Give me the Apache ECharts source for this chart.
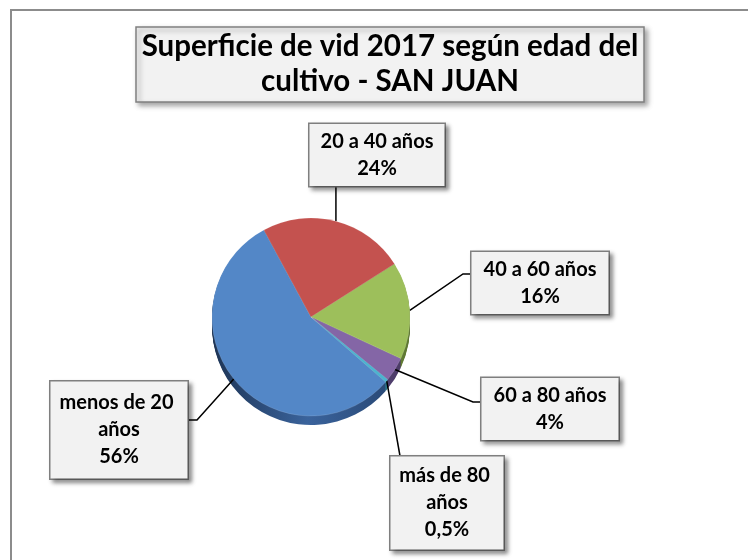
<!DOCTYPE html>
<html>
<head>
<meta charset="utf-8">
<title>Superficie de vid 2017 según edad del cultivo - SAN JUAN</title>
<script src="https://cdn.jsdelivr.net/npm/echarts@6/dist/echarts.min.js"></script>
<style>
  html, body { margin: 0; padding: 0; background: #ffffff; }
  #chart { width: 748px; height: 560px; }
</style>
</head>
<body>
<div id="chart"></div>
<script>
// Superficie de vid por edad del cultivo (porcentaje del total)
const categories = ['menos de 20 años', '20 a 40 años', '40 a 60 años', '60 a 80 años', 'más de 80 años'];
const shares = [56, 24, 16, 4, 0.5];

// slice colours: top face and darker side wall
const topColors = ['#5387c7', '#c4524f', '#9dbf5b', '#8466a6', '#4bb3cf'];
const sideColors = [
  ['#1d3455', '#3a639c', '#2a4a78'],
  ['#7a2e2c', '#9a3d3a', '#7a2e2c'],
  ['#5c7530', '#77933f', '#5c7530'],
  ['#4a3a66', '#5f4a80', '#4a3a66'],
  ['#2b7388', '#3a8ea6', '#2b7388']
];

// label boxes: centre, inner text width, padding, leader-line path
const labelBoxes = [
  { cx: 119, cy: 430, w: 133, pad: [8, 2], path: [[197, 420], [188, 420]] },
  { cx: 377, cy: 155, w: 131, pad: [4, 2], path: [null, [null, 186]] },
  { cx: 540, cy: 283, w: 133, pad: [4, 2], path: [[463, 274], [472, 274]] },
  { cx: 550, cy: 409, w: 133, pad: [4, 2], path: [[473, 402], [482, 402]] },
  { cx: 447, cy: 503, w: 109, pad: [6, 2], path: [null, [400, 456]] }
];

const pieCenter = [311, 317];
const pieRadius = 99;
const depth = 9;

function fmtPct(v) {
  return String(v).replace('.', ',') + '%';
}

const fontFamily = 'Lato, "Liberation Sans", sans-serif';

const series = [];

// side wall: stacked copies shifted downward
for (let k = depth; k >= 1; k -= 1) {
  series.push({
    type: 'pie',
    silent: true,
    z: 1,
    center: [pieCenter[0], pieCenter[1] + k],
    radius: pieRadius,
    startAngle: -41,
    clockwise: true,
    label: { show: false },
    labelLine: { show: false },
    data: categories.map((name, i) => ({
      name: name,
      value: shares[i],
      itemStyle: {
        color: {
          type: 'linear', x: 0, y: 0, x2: 1, y2: 0,
          colorStops: [
            { offset: 0, color: sideColors[i][0] },
            { offset: 0.55, color: sideColors[i][1] },
            { offset: 1, color: sideColors[i][2] }
          ]
        }
      }
    }))
  });
}

// top face with labels
series.push({
  type: 'pie',
  z: 2,
  center: pieCenter,
  radius: pieRadius,
  startAngle: -41,
  clockwise: true,
  avoidLabelOverlap: false,
  itemStyle: { borderColor: 'rgba(255,255,255,0.25)', borderWidth: 0.5 },
  label: {
    show: true,
    position: 'outside',
    color: '#000000',
    fontFamily: fontFamily,
    fontWeight: 'bold',
    fontSize: 20,
    lineHeight: 27,
    align: 'center',
    overflow: 'break',
    backgroundColor: '#f2f2f2',
    borderColor: '#808080',
    borderWidth: 1.5,
    shadowColor: 'rgba(0,0,0,0.35)',
    shadowBlur: 4,
    shadowOffsetX: 3,
    shadowOffsetY: 3,
    formatter: p => p.name + '\n' + fmtPct(p.value)
  },
  labelLine: {
    show: true,
    length: 10,
    length2: 10,
    lineStyle: { color: '#000000', width: 1.5 }
  },
  labelLayout: function (params) {
    const b = labelBoxes[params.dataIndex];
    const start = params.labelLinePoints ? params.labelLinePoints[0] : [b.cx, b.cy];
    const pts = [start.slice()];
    b.path.forEach(pt => {
      if (pt === null) return;
      pts.push([pt[0] === null ? start[0] : pt[0], pt[1]]);
    });
    if (pts.length === 2) pts.push(pts[1].slice());
    return {
      x: b.cx,
      y: b.cy,
      align: 'center',
      verticalAlign: 'middle',
      labelLinePoints: pts
    };
  },
  data: categories.map((name, i) => ({
    name: name,
    value: shares[i],
    itemStyle: { color: topColors[i] },
    label: { width: labelBoxes[i].w, padding: labelBoxes[i].pad }
  }))
});

const chart = echarts.init(document.getElementById('chart'), null, { renderer: 'canvas' });
chart.setOption({
  backgroundColor: '#ffffff',
  animation: false,
  title: {
    text: '{t|Superficie de vid 2017 según edad del}\n{t|cultivo - SAN JUAN}',
    left: 136,
    top: 24,
    padding: [5, 4, 6, 4],
    backgroundColor: '#f2f2f2',
    borderColor: '#808080',
    borderWidth: 1.5,
    shadowColor: 'rgba(0,0,0,0.35)',
    shadowBlur: 5,
    shadowOffsetX: 3,
    shadowOffsetY: 3,
    textStyle: {
      rich: {
        t: {
          width: 500,
          align: 'center',
          fontFamily: fontFamily,
          fontWeight: 'bold',
          fontSize: 29.5,
          lineHeight: 35,
          color: '#000000'
        }
      }
    }
  },
  graphic: [{
    type: 'rect',
    silent: true,
    z: 0,
    shape: { x: 11, y: 10, width: 760, height: 580 },
    style: { fill: 'none', stroke: '#8c8c8c', lineWidth: 2 }
  }],
  series: series
});
</script>
</body>
</html>
